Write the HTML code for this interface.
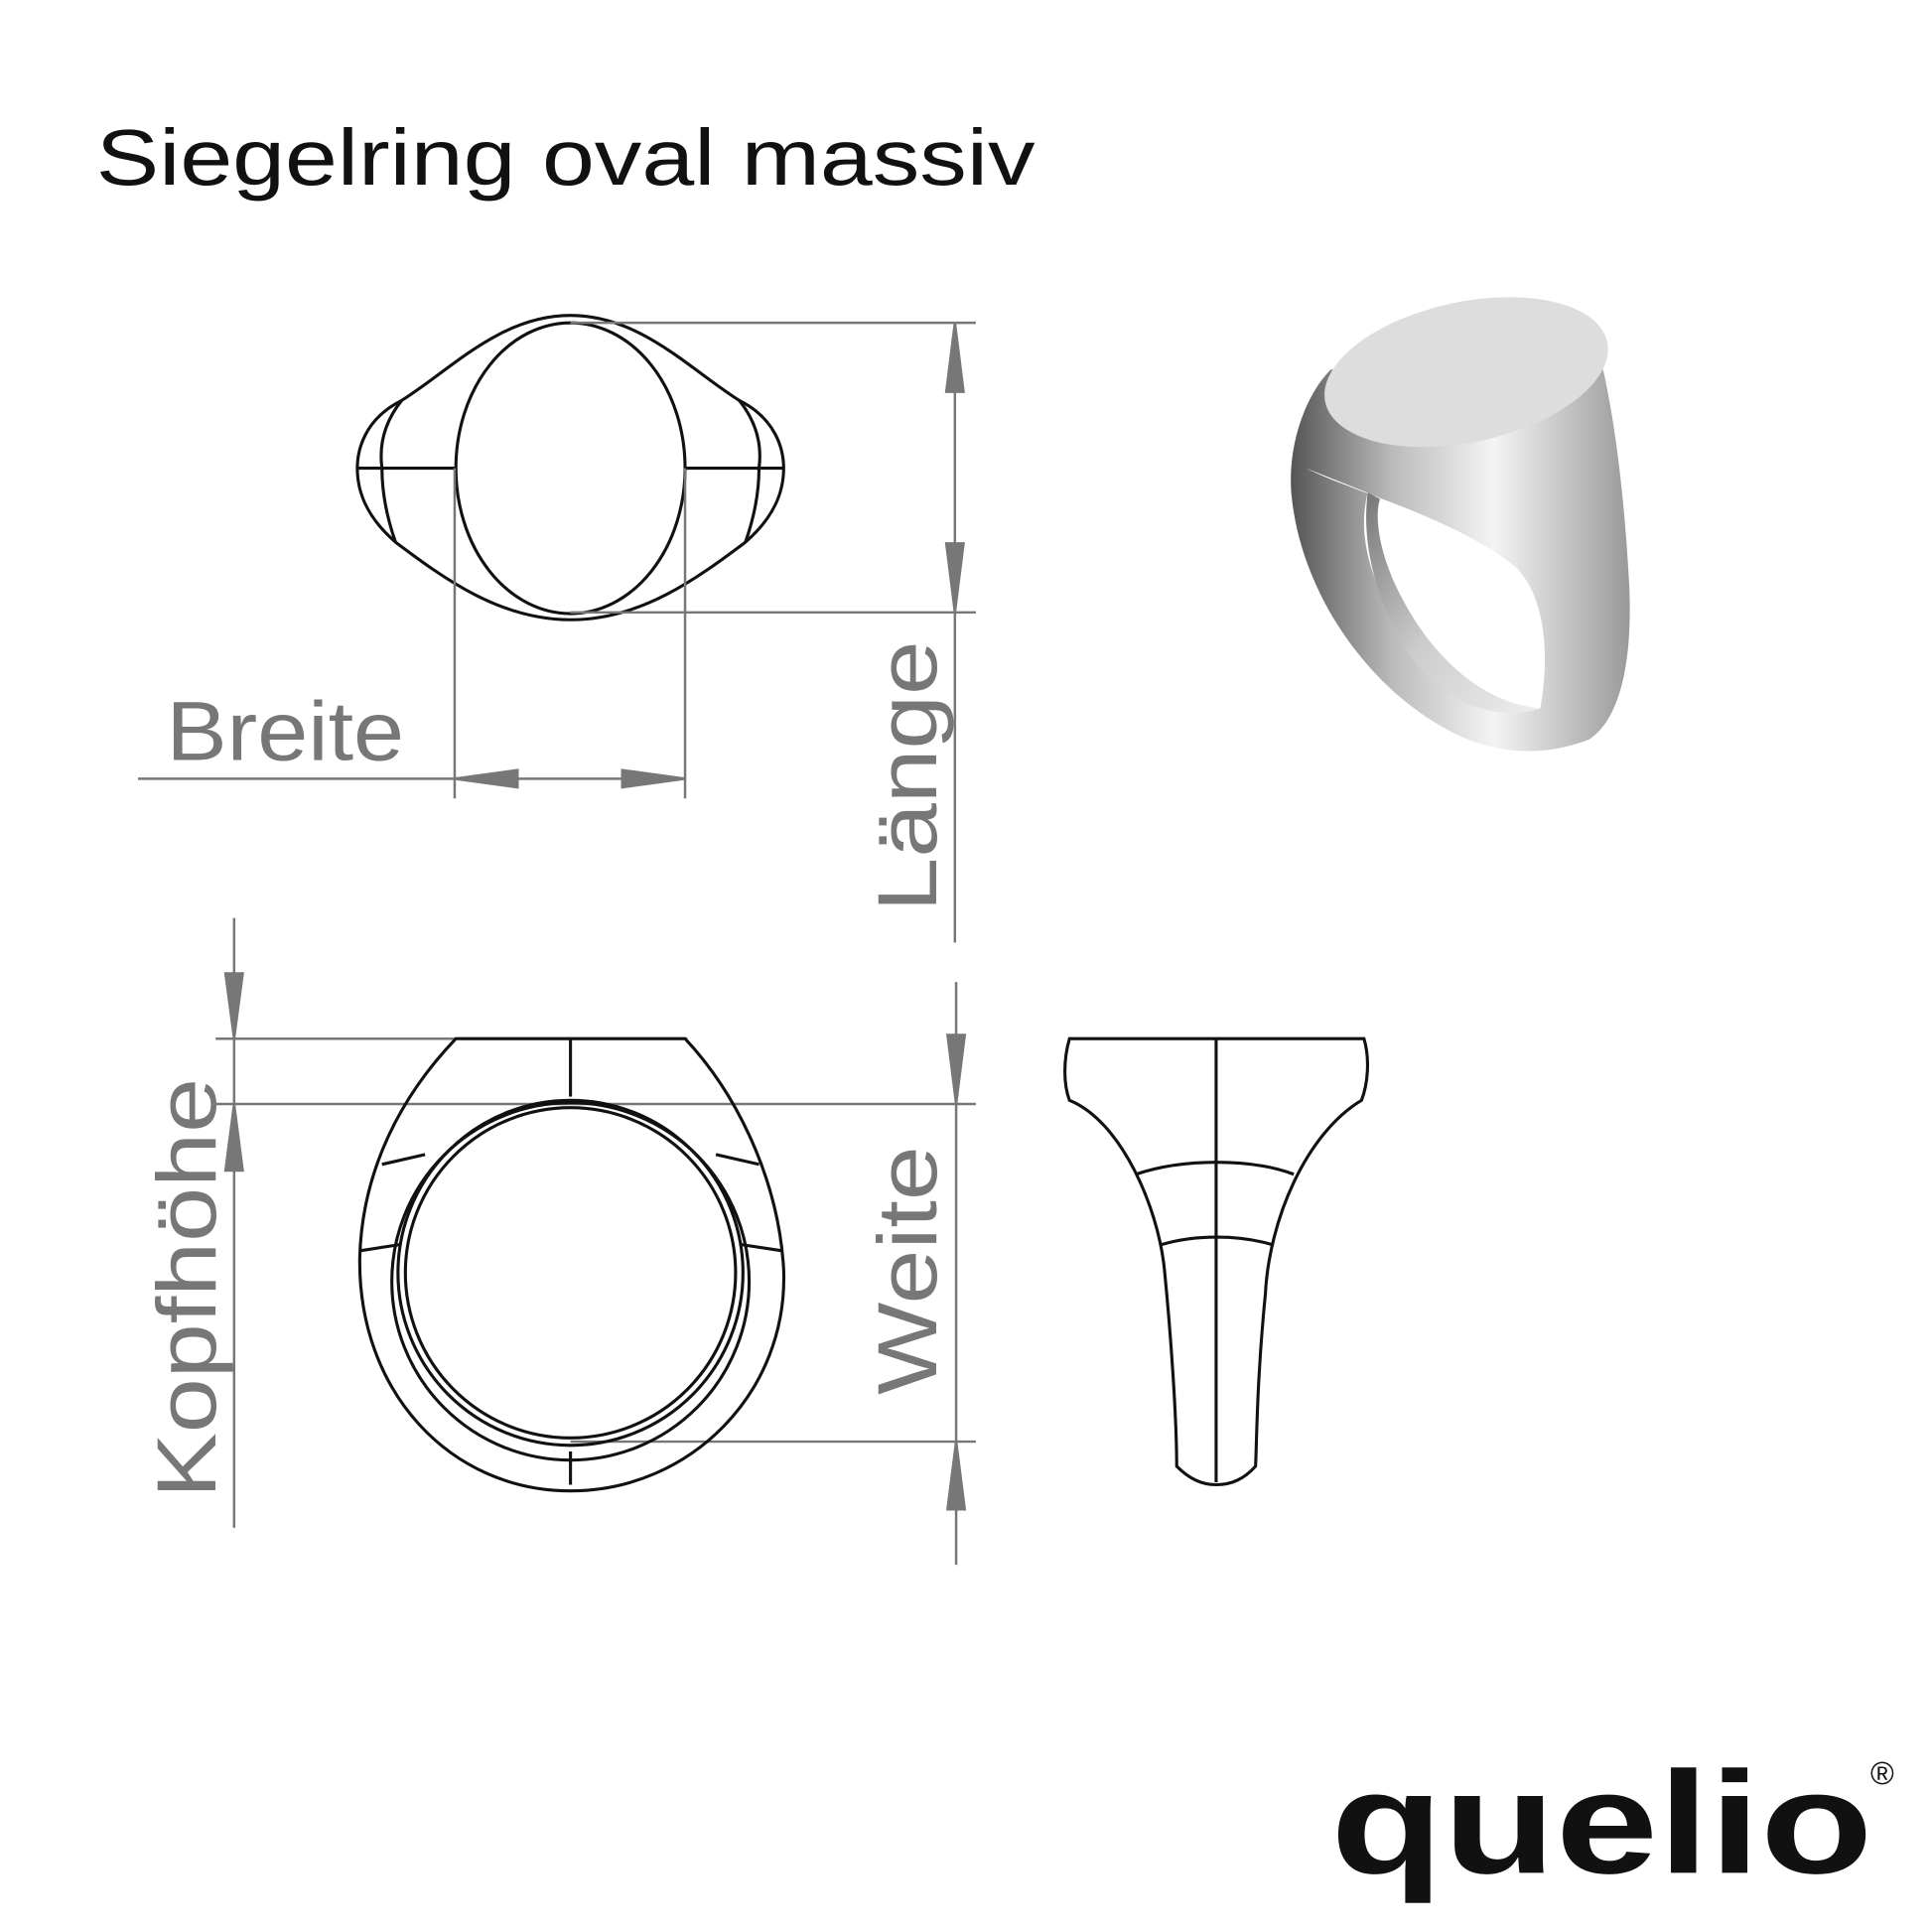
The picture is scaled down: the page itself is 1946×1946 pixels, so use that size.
<!DOCTYPE html>
<html><head><meta charset="utf-8"><style>
html,body{margin:0;padding:0;background:#fff}
svg{display:block}
</style></head><body>
<svg width="1946" height="1946" viewBox="0 0 1568 1568" xmlns="http://www.w3.org/2000/svg">
<defs>
<linearGradient id="g1" x1="0" y1="0" x2="1" y2="0">
<stop offset="0" stop-color="#555"/><stop offset="0.3" stop-color="#bbb"/><stop offset="0.6" stop-color="#f4f4f4"/><stop offset="1" stop-color="#999"/>
</linearGradient>
<linearGradient id="g2" x1="0" y1="0" x2="1" y2="1">
<stop offset="0" stop-color="#777"/><stop offset="0.5" stop-color="#ccc"/><stop offset="1" stop-color="#eee"/>
</linearGradient>
</defs>
<rect width="1568" height="1568" fill="#fff"/>
<text x="78" y="150" font-family="Liberation Sans, sans-serif" font-size="64" fill="#111" textLength="762" lengthAdjust="spacingAndGlyphs">Siegelring oval massiv</text>

<g fill="none" stroke="#111" stroke-width="2.5">
<path d="M463,256 C520,256 560,300 600,325 C630,340 636,365 636,380 C636,400 628,420 605,440 C565,470 520,503 463,503 C406,503 361,470 321,440 C298,420 290,400 290,380 C290,365 296,340 326,325 C366,300 406,256 463,256 Z"/>
<path d="M326,325 C310,345 308,365 310,380 C310,400 314,420 321,440"/>
<path d="M600,325 C616,345 618,365 616,380 C616,400 612,420 605,440"/>
<ellipse cx="463" cy="380" rx="93" ry="118"/>
<line x1="290" y1="380" x2="370" y2="380"/><line x1="556" y1="380" x2="636" y2="380"/>
</g>
<g stroke="#777" stroke-width="2" fill="#777">
<line x1="463" y1="262" x2="792" y2="262"/><line x1="463" y1="497" x2="792" y2="497"/>
<line x1="775" y1="262" x2="775" y2="765"/>
<polygon points="775,262 768,318 782,318"/><polygon points="775,497 768,441 782,441"/>
<line x1="369" y1="380" x2="369" y2="648"/><line x1="556" y1="380" x2="556" y2="648"/>
<line x1="112" y1="632" x2="556" y2="632"/>
<polygon points="369,632 420,625 420,639"/><polygon points="556,632 505,625 505,639"/>
<line x1="175" y1="843" x2="558" y2="843"/><line x1="175" y1="896" x2="463" y2="896"/>
<line x1="190" y1="745" x2="190" y2="1240"/>
<polygon points="190,843 183,790 197,790"/><polygon points="190,896 183,950 197,950"/>
<line x1="463" y1="896" x2="792" y2="896"/><line x1="463" y1="1170" x2="792" y2="1170"/>
<line x1="776" y1="797" x2="776" y2="1270"/>
<polygon points="776,896 769,840 783,840"/><polygon points="776,1170 769,1225 783,1225"/>
</g>
<g font-family="Liberation Sans, sans-serif" font-size="68" fill="#777">
<text x="135" y="617" textLength="193" lengthAdjust="spacingAndGlyphs">Breite</text>
<text transform="translate(760,740) rotate(-90)" textLength="220" lengthAdjust="spacingAndGlyphs">Länge</text>
<text transform="translate(175,1216) rotate(-90)" textLength="341" lengthAdjust="spacingAndGlyphs">Kopfhöhe</text>
<text transform="translate(760,1132) rotate(-90)" textLength="202" lengthAdjust="spacingAndGlyphs">Weite</text>
</g>

<g fill="none" stroke="#111" stroke-width="2.5">
<path d="M370,843 L556,843 C600,890 632,960 636,1030 C640,1130 560,1210 463,1210 C366,1210 290,1130 292,1020 C294,950 325,890 370,843 Z"/>
<circle cx="463" cy="1033" r="140"/>
<circle cx="463" cy="1033" r="134"/>
<circle cx="463" cy="1040" r="145"/>
<line x1="463" y1="843" x2="463" y2="890"/><line x1="463" y1="1178" x2="463" y2="1205"/>
<line x1="310" y1="945" x2="345" y2="937"/><line x1="616" y1="945" x2="581" y2="937"/>
<line x1="293" y1="1015" x2="325" y2="1010"/><line x1="634" y1="1015" x2="601" y2="1010"/>
</g>

<g fill="none" stroke="#111" stroke-width="2.5">
<path d="M868,843 L1107,843 C1112,860 1110,880 1105,893 C1060,920 1030,990 1027,1050 C1020,1120 1020,1170 1019,1190 C1010,1200 1000,1205 987,1205 C975,1205 965,1200 955,1190 C955,1150 950,1080 945,1030 C940,980 910,910 868,893 C863,880 863,860 868,843 Z"/>
<line x1="987" y1="843" x2="987" y2="1203"/>
<path d="M922,953 C960,940 1015,940 1050,953"/>
<path d="M943,1010 C970,1002 1005,1002 1032,1010"/>
</g>

<g>
<path d="M1080,300 C1060,320 1045,360 1048,400 C1055,480 1110,560 1180,595 C1220,615 1260,612 1290,600 C1320,580 1325,520 1322,470 C1318,400 1310,330 1295,275 Z" fill="url(#g1)"/>
<path d="M1060,380 C1100,400 1180,420 1230,460 C1260,490 1255,550 1250,575 C1200,580 1150,540 1120,480 C1105,445 1105,420 1110,400 Z" fill="#fff"/>
<path d="M1110,400 C1105,440 1115,490 1150,540 C1180,575 1220,585 1250,575 C1200,570 1160,530 1135,480 C1120,450 1115,420 1120,405 Z" fill="url(#g2)"/>
<ellipse cx="1190" cy="302" rx="117" ry="57" transform="rotate(-12 1190 302)" fill="#ddd"/>
</g>

<text x="1080" y="1520" font-family="Liberation Sans, sans-serif" font-weight="bold" font-size="118" fill="#111" textLength="440" lengthAdjust="spacingAndGlyphs">quelio</text>
<text x="1518" y="1448" font-family="Liberation Sans, sans-serif" font-size="26" fill="#111">®</text>
</svg>
</body></html>
